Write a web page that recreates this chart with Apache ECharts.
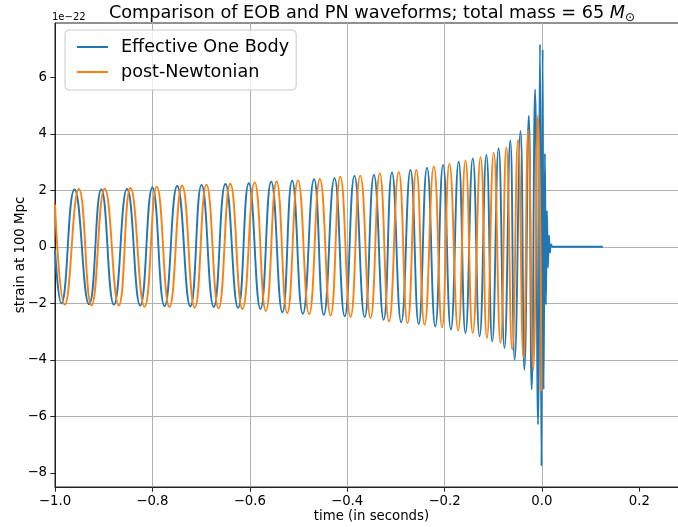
<!DOCTYPE html>
<html><head><meta charset="utf-8">
<script src="https://cdn.jsdelivr.net/npm/echarts@6/dist/echarts.min.js"></script>
<style>html,body{margin:0;padding:0;background:#fff}#c{width:678px;height:527px}</style>
</head><body><div id="c"></div>
<script>
// Effective One Body waveform: times (s) of start, extrema and ringdown; strain in units of 1e-22
const eobTime = [-1.000, -0.987, -0.960, -0.930, -0.905, -0.879, -0.852, -0.825, -0.800, -0.775,
  -0.749, -0.722, -0.699, -0.674, -0.650, -0.624, -0.602, -0.578, -0.556, -0.533,
  -0.513, -0.491, -0.468, -0.448, -0.426, -0.405, -0.385, -0.364, -0.345, -0.325,
  -0.308, -0.289, -0.270, -0.253, -0.236, -0.219, -0.203, -0.187, -0.171, -0.157,
  -0.142, -0.128, -0.114, -0.102, -0.089, -0.077, -0.065, -0.056, -0.044, -0.036,
  -0.027, -0.021, -0.014, -0.008, -0.004, -0.001, 0.0015, 0.0035, 0.0062, 0.0082,
  0.0103, 0.0123, 0.0144, 0.0164, 0.0189, 0.022, 0.125];
const eobStrain = [-0.1, -2.0, 2.03, -2.03, 2.03, -2.05, 2.05, -2.08, 2.1, -2.1,
  2.15, -2.11, 2.19, -2.13, 2.22, -2.16, 2.25, -2.2, 2.3, -2.32,
  2.34, -2.37, 2.39, -2.41, 2.43, -2.46, 2.51, -2.48, 2.54, -2.58,
  2.63, -2.67, 2.72, -2.73, 2.8, -2.82, 2.9, -2.93, 3.01, -3.05,
  3.13, -3.17, 3.25, -3.35, 3.49, -3.58, 3.76, -4.0, 4.1, -4.35,
  4.64, -5.05, 5.57, -6.29, 7.17, -7.76, 6.98, -5.05, 3.3, -2.05,
  1.28, -0.74, 0.4, -0.2, 0.08, 0, 0];
// post-Newtonian waveform
const pnTime = [-1.000, -0.980, -0.951, -0.925, -0.898, -0.869, -0.845, -0.816, -0.791, -0.765,
  -0.739, -0.713, -0.689, -0.664, -0.640, -0.615, -0.590, -0.567, -0.545, -0.523,
  -0.501, -0.478, -0.456, -0.434, -0.414, -0.393, -0.373, -0.352, -0.333, -0.314,
  -0.294, -0.276, -0.258, -0.241, -0.222, -0.205, -0.190, -0.172, -0.157, -0.142,
  -0.126, -0.113, -0.099, -0.085, -0.073, -0.061, -0.049, -0.038, -0.028, -0.018,
  -0.008, -0.001];
const pnStrain = [1.5, -2.05, 2.05, -2.07, 2.06, -2.08, 2.08, -2.12, 2.13, -2.13,
  2.17, -2.16, 2.2, -2.18, 2.23, -2.2, 2.28, -2.27, 2.31, -2.34,
  2.35, -2.38, 2.4, -2.43, 2.48, -2.48, 2.52, -2.52, 2.6, -2.64,
  2.65, -2.7, 2.72, -2.76, 2.84, -2.84, 2.94, -2.96, 3.05, -3.05,
  3.17, -3.23, 3.33, -3.4, 3.52, -3.64, 3.78, -3.93, 4.13, -4.35,
  4.66, -5.11];
const seriesNames = ['Effective One Body', 'post-Newtonian'];
const xTickValues = [-1.0, -0.8, -0.6, -0.4, -0.2, 0.0, 0.2];
const yTickValues = [-8, -6, -4, -2, 0, 2, 4, 6];

const FONT = 'DejaVu Sans';
const minus = s => s.replace('-', '\u2212');
const chart = echarts.init(document.getElementById('c'), null, {renderer: 'canvas'});
chart.setOption({
  animation: false,
  backgroundColor: '#ffffff',
  grid: {left: 55, top: 23, width: 633, height: 464, show: true, borderColor: '#222', borderWidth: 1,
         backgroundColor: 'transparent', containLabel: false, outerBoundsMode: 'none'},
  graphic: [
    {type: 'text', x: 372, y: 13, z: 100, style: {
      text: 'Comparison of EOB and PN waveforms; total mass = 65 {m|M}{s|\u2299}',
      align: 'center', verticalAlign: 'middle', fontFamily: FONT, fontSize: 17.7, fill: '#000',
      rich: {m: {fontFamily: FONT, fontSize: 17.7, fontStyle: 'italic', fill: '#000'},
             s: {fontFamily: FONT, fontSize: 12, fill: '#000', padding: [9, 0, 0, 0]}}
    }},
    {type: 'text', x: 52, y: 17, z: 100, style: {text: '1e\u221222', align: 'left', verticalAlign: 'middle', fontFamily: FONT, fontSize: 10, fill: '#000'}}
  ],
  legend: {
    orient: 'vertical', left: 65, top: 30, padding: [7, 7, 8, 12], itemGap: 5,
    itemWidth: 31, itemHeight: 2, icon: 'rect',
    backgroundColor: 'rgba(255,255,255,0.8)', borderColor: '#cccccc', borderWidth: 1, borderRadius: 4,
    textStyle: {fontFamily: FONT, fontSize: 17.6, color: '#000', lineHeight: 20, padding: [0, 0, 0, 8]},
    data: seriesNames
  },
  xAxis: {
    type: 'value', min: -1.0, max: 0.3,
    name: 'time (in seconds)', nameLocation: 'middle', nameGap: 23, nameMoveOverlap: false,
    nameTextStyle: {fontFamily: FONT, fontSize: 13.3, color: '#000'},
    axisLine: {show: true, onZero: false, lineStyle: {color: '#222', width: 1}},
    axisTick: {show: true, inside: false, length: 4.7, customValues: xTickValues, lineStyle: {color: '#222', width: 1}},
    axisLabel: {show: true, margin: 8, customValues: xTickValues, fontFamily: FONT, fontSize: 13.3, color: '#000',
      formatter: v => minus((Math.round(v * 10) / 10).toFixed(1))},
    splitLine: {show: true, showMinLine: false, showMaxLine: false, lineStyle: {color: '#b0b0b0', width: 1}}
  },
  yAxis: {
    type: 'value', min: -8.5, max: 7.92,
    name: 'strain at 100 Mpc', nameLocation: 'middle', nameGap: 28, nameRotate: 90, nameMoveOverlap: false,
    nameTextStyle: {fontFamily: FONT, fontSize: 13.3, color: '#000'},
    axisLine: {show: true, onZero: false, lineStyle: {color: '#222', width: 1}},
    axisTick: {show: true, inside: false, length: 4.7, customValues: yTickValues, lineStyle: {color: '#222', width: 1}},
    axisLabel: {show: true, margin: 8, customValues: yTickValues, fontFamily: FONT, fontSize: 13.3, color: '#000',
      formatter: v => minus(String(Math.round(v)))},
    splitLine: {show: true, showMinLine: false, showMaxLine: false, lineStyle: {color: '#b0b0b0', width: 1}}
  },
  series: [
    {name: seriesNames[0], type: 'line', data: eobTime.map((t, i) => [t, eobStrain[i]]),
     symbol: 'none', showSymbol: false, smooth: 0.5, clip: true, z: 2,
     lineStyle: {color: '#1f77b4', width: 1.9}, itemStyle: {color: '#1f77b4'}, emphasis: {disabled: true}},
    {name: seriesNames[1], type: 'line', data: pnTime.map((t, i) => [t, pnStrain[i]]),
     symbol: 'none', showSymbol: false, smooth: 0.5, clip: true, z: 3,
     lineStyle: {color: '#ff7f0e', width: 1.9}, itemStyle: {color: '#ff7f0e'}, emphasis: {disabled: true}}
  ]
});
</script></body></html>
